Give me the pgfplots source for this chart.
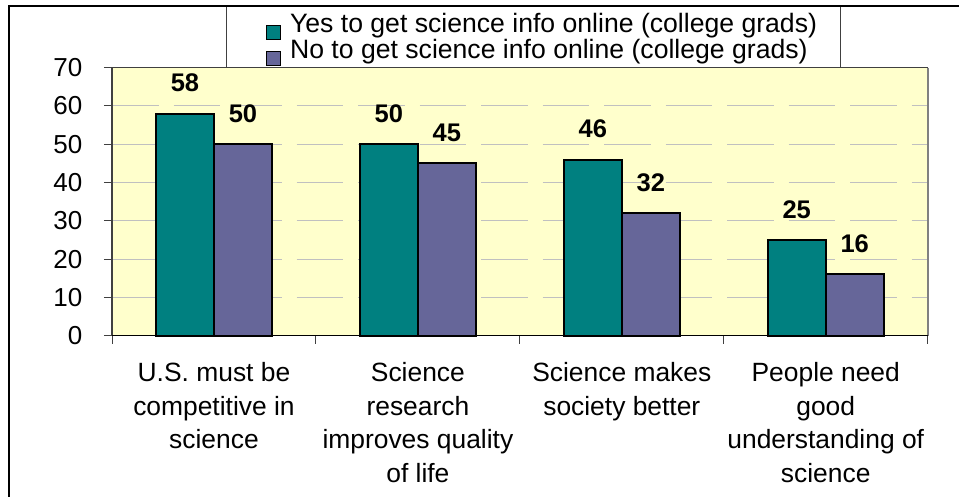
\documentclass[border=0pt]{standalone}
\usepackage{fontspec}
\setmainfont{Liberation Sans}
\usepackage{pgfplots}
\pgfplotsset{compat=1.18}
\definecolor{tealbar}{RGB}{0,128,128}
\definecolor{purpbar}{RGB}{102,102,153}
\definecolor{bgyel}{RGB}{255,255,204}
\definecolor{gridc}{RGB}{192,192,192}
\definecolor{axdark}{RGB}{64,64,64}
\definecolor{axgray}{RGB}{128,128,128}
\begin{document}
\fontsize{13}{16.75}\selectfont
\begin{tikzpicture}[font=\fontsize{13}{16.75}\selectfont]
\begin{axis}[
  at={(0,0)}, anchor=south west,
  scale only axis, width=407.85pt, height=134pt,
  xmin=-0.5, xmax=3.5, ymin=0, ymax=70,
  enlargelimits=false, clip=false,
  axis line style={draw=none},
  axis background/.style={fill=bgyel},
  /pgf/number format/assume math mode=true,
  ybar, bar width=29pt,
  ytick={0,10,...,70},
  xtick={-0.5,0.5,1.5,2.5,3.5},
  xticklabels={},
  xtick pos=bottom, ytick pos=left,
  extra x ticks={0,1,2,3},
  extra x tick labels={{U.S. must be\\competitive in\\science},{Science\\research\\improves quality\\of life},{Science makes\\society better},{People need\\good\\understanding of\\science}},
  extra x tick style={major tick length=0pt, xticklabel style={anchor=north, align=center, inner sep=0pt, yshift=-13.3pt, font=\fontsize{13.2}{16.75}\selectfont}},
  tick align=outside, major tick length=4pt,
  tick style={axdark, line width=0.5pt},
  yticklabel style={anchor=east, inner sep=0pt, xshift=-10.65pt, font=\fontsize{13}{15}\selectfont},
  ymajorgrids,
  major grid style={gridc, line width=0.5pt, dash pattern=on 23.35pt off 7.4pt},
  nodes near coords,
  every node near coord/.append style={font=\bfseries\fontsize{12.75}{15}\selectfont, text=black, anchor=south, inner sep=0pt, yshift=10.3pt},
  legend style={at={(axis description cs:0.18843,1.2037)}, anchor=north west, draw=none, fill=none, inner sep=0pt, row sep=0pt, column sep=4.5pt, nodes={inner sep=0pt, text height=9.3pt, text depth=2pt, anchor=base west}, font=\fontsize{13.3}{15}\selectfont},
  legend cell align=left,
  legend image code/.code={\draw[#1, draw=black, line width=0.5pt] (0pt,-3.5pt) rectangle (7pt,3.5pt);},
]
\addplot[fill=tealbar, draw=black, line width=1pt, bar shift=-14.5pt] coordinates {(0,58) (1,50) (2,46) (3,25)};
\addplot[fill=purpbar, draw=black, line width=1pt, bar shift=14.5pt] coordinates {(0,50) (1,45) (2,32) (3,16)};
\legend{Yes to get science info online (college grads), No to get science info online (college grads)}
\draw[axdark, line width=0.5pt] (rel axis cs:0,1) -- (rel axis cs:1,1);
\draw[axgray, line width=1pt] (rel axis cs:1,1) -- (rel axis cs:1,0);
\draw[axdark, line width=0.6pt] (rel axis cs:0,1) -- (rel axis cs:0,0);
\draw[black, line width=0.75pt] (rel axis cs:0,0) -- (rel axis cs:1,0);
\end{axis}
\draw[axdark, line width=0.5pt] (57pt,134pt) rectangle (364pt,164.85pt);
\draw[black, line width=1pt] (-51.25pt,-95pt) -- (-51.25pt,164.85pt) -- (440pt,164.85pt);
\pgfresetboundingbox
\path[use as bounding box] (-56pt,-80.65pt) rectangle (423.5pt,167.85pt);
\end{tikzpicture}
\end{document}
